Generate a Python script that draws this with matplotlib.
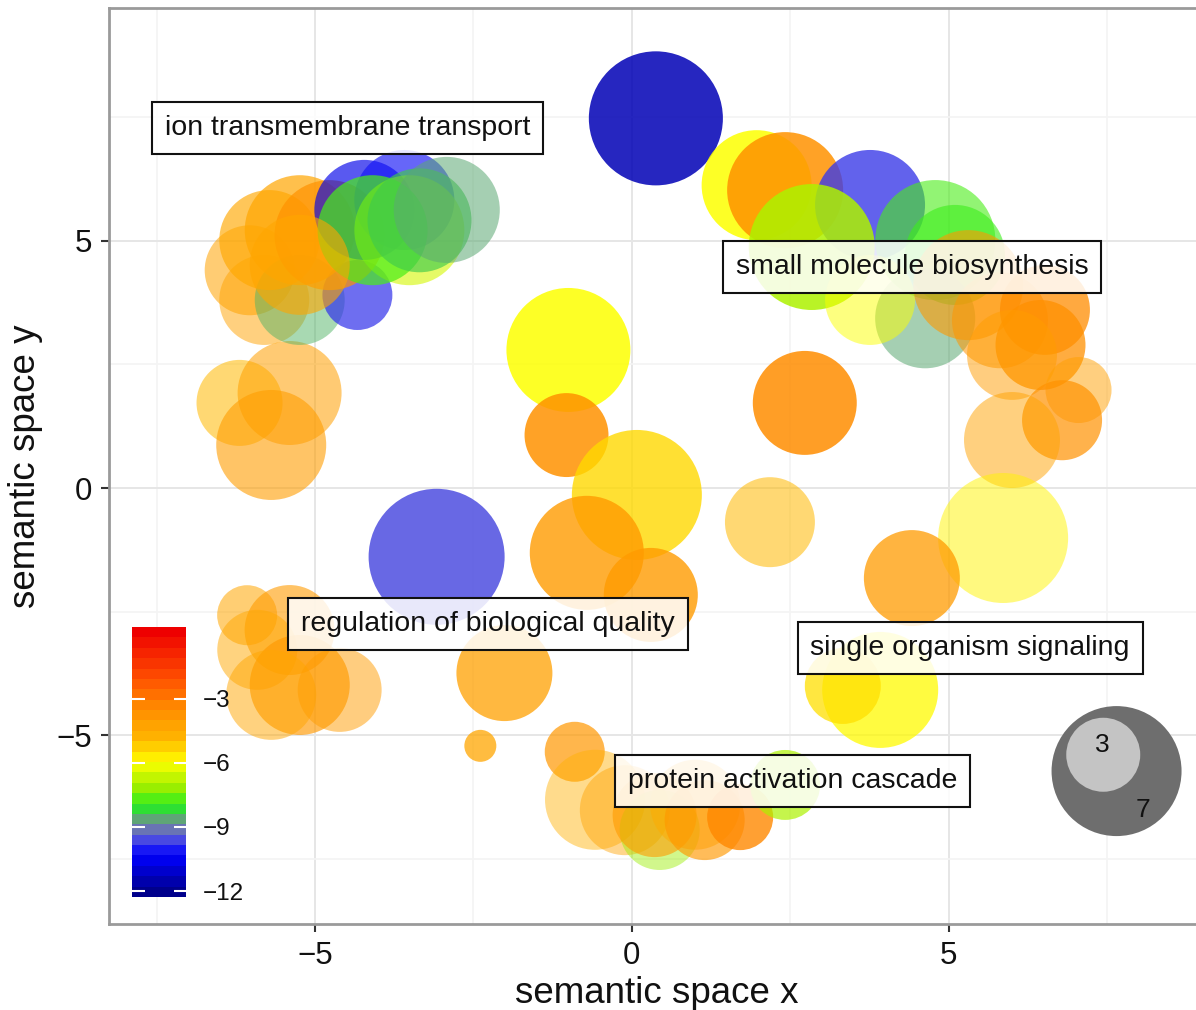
import numpy as np
import matplotlib
matplotlib.use("Agg")
import matplotlib.pyplot as plt
import matplotlib as mpl
from matplotlib.colors import LinearSegmentedColormap, Normalize

plt.rcParams['font.family'] = ['Liberation Sans', 'DejaVu Sans']

# ---------------- data ----------------
plot_x = [0.38, 1.97, 2.42, 3.76, 2.84, 4.79, 5.10, 4.63, 3.76, 5.31,
          5.81, 6.52, 6.45, 6.00, 7.05, 6.79, 6.00, 5.86, 4.42, 3.92,
          3.33, 2.73, 2.18, -1.00, -1.03, 0.08, -0.71, 0.30, -3.08, -6.07,
          -5.40, -5.91, -5.24, -5.69, -4.61, -2.01, -2.39, -0.90, -0.58, -0.11,
          0.44, 0.36, 1.00, 1.15, 1.71, 2.42, -6.19, -5.40, -5.69, -6.03,
          -5.80, -5.24, -4.33, -5.72, -5.24, -4.77, -4.22, -3.59, -3.51, -4.09,
          -3.35, -2.92, -5.24]
plot_y = [7.47, 6.12, 6.02, 5.72, 4.87, 5.01, 4.71, 3.43, 3.80, 4.10,
          3.39, 3.60, 2.89, 2.69, 1.98, 1.37, 0.97, -1.01, -1.82, -4.08,
          -4.00, 1.72, -0.69, 2.79, 1.07, -0.14, -1.31, -2.16, -1.39, -2.57,
          -2.87, -3.27, -3.98, -4.18, -4.08, -3.74, -5.21, -5.33, -6.30, -6.51,
          -6.91, -6.61, -6.40, -6.71, -6.65, -6.00, 1.72, 1.92, 0.87, 4.40,
          3.80, 3.80, 3.90, 5.01, 5.21, 5.11, 5.62, 5.82, 5.21, 5.21,
          5.41, 5.62, 4.51]
plot_size = [7.29, 5.57, 6.00, 5.57, 6.71, 6.29, 4.86, 4.86, 4.14, 5.57,
             4.57, 4.14, 4.14, 4.14, 2.43, 3.43, 4.57, 7.00, 4.57, 6.00,
             3.14, 5.14, 4.14, 6.57, 3.71, 7.00, 5.86, 4.43, 7.43, 2.00,
             4.14, 3.43, 4.86, 4.14, 3.71, 4.57, 0.00, 2.00, 4.86, 4.14,
             3.43, 3.71, 4.14, 3.43, 2.43, 2.71, 3.86, 5.14, 5.57, 4.14,
             4.14, 4.14, 2.71, 4.86, 5.57, 5.57, 4.86, 4.86, 5.57, 5.57,
             5.14, 5.29, 4.86]
log10_p_value = [-11.6, -6.0, -3.6, -9.9, -7.0, -7.8, -7.9, -8.7, -6.0, -3.8,
                 -3.7, -3.4, -3.5, -4.0, -4.1, -3.6, -4.2, -5.8, -3.9, -5.9,
                 -5.5, -3.4, -4.9, -6.0, -3.6, -5.4, -3.9, -3.9, -9.7, -4.3,
                 -3.9, -4.4, -3.8, -4.3, -4.0, -4.1, -4.3, -3.8, -4.7, -4.2,
                 -7.2, -3.9, -4.5, -3.8, -3.3, -7.0, -4.9, -4.1, -4.0, -4.2,
                 -4.2, -8.6, -10.0, -4.4, -4.3, -3.6, -10.8, -10.3, -6.5, -7.8,
                 -8.4, -8.7, -4.3]
uniqueness = [0.85, 0.85, 0.85, 0.80, 0.85, 0.60, 0.60, 0.55, 0.50, 0.60,
              0.55, 0.75, 0.75, 0.50, 0.50, 0.70, 0.50, 0.50, 0.75, 0.75,
              0.75, 0.85, 0.55, 0.85, 0.85, 0.80, 0.80, 0.80, 0.85, 0.55,
              0.60, 0.50, 0.65, 0.50, 0.50, 0.75, 0.75, 0.70, 0.45, 0.45,
              0.45, 0.60, 0.50, 0.65, 0.80, 0.70, 0.55, 0.55, 0.60, 0.55,
              0.50, 0.50, 0.70, 0.65, 0.70, 0.70, 0.65, 0.65, 0.60, 0.70,
              0.65, 0.55, 0.60]

label_text = ["ion transmembrane transport", "small molecule biosynthesis",
              "regulation of biological quality", "single organism signaling",
              "protein activation cascade"]
label_x = [-4.49, 4.42, -2.27, 5.34, 2.54]
label_y = [7.27, 4.46, -2.75, -3.23, -5.92]

legend_size = [7, 3]
legend_x = [7.65, 7.44]
legend_y = [-5.72, -5.39]
legend_text_x = [8.06, 7.43]
legend_text_y = [-6.50, -5.19]

cbar_ticks = [-3, -6, -9, -12]

# ---------------- style ----------------
FIG_W, FIG_H, DPI = 11.96, 10.10, 100


def size_to_s(sz):
    r_px = 16 + 7 * np.asarray(sz, dtype=float)
    r_pt = r_px * 72.0 / DPI
    return (2 * r_pt) ** 2


cmap = LinearSegmentedColormap.from_list(
    "revigo",
    [(0.000, "#00008B"), (0.140, "#0000FF"), (0.210, "#5555DD"),
     (0.260, "#778899"), (0.330, "#22EE22"), (0.400, "#99EE00"),
     (0.500, "#FFFF00"), (0.590, "#FFB400"), (0.710, "#FF8A00"),
     (0.820, "#FF5000"), (1.000, "#EE0000")])
norm = Normalize(vmin=-12.28, vmax=0.35)

fig = plt.figure(figsize=(FIG_W, FIG_H), dpi=DPI)
ax = fig.add_axes([109 / 1196, 1 - 924 / 1010, 1095 / 1196, 916 / 1010])

rgba = cmap(norm(np.array(log10_p_value)))
rgba[:, 3] = np.array(uniqueness)
ax.scatter(plot_x, plot_y, s=size_to_s(plot_size), c=rgba, edgecolors='none', zorder=3)

# size legend
ax.scatter(legend_x, legend_y, s=size_to_s(legend_size), c=['#6E6E6E', '#C4C4C4'],
           edgecolors='none', zorder=4)
for tx, ty, sz in zip(legend_text_x, legend_text_y, legend_size):
    ax.text(tx, ty, str(sz), ha='center', va='center', fontsize=19, color='#111111', zorder=5)

# labels
for t, lx, ly in zip(label_text, label_x, label_y):
    ax.text(lx, ly, t, ha='center', va='center', fontsize=20.5, color='#111111', zorder=6,
            bbox=dict(boxstyle='square,pad=0.45', fc=(1, 1, 1, 0.85), ec='#111111', lw=1.5))

ax.set_xlim(-8.25, 9.03)
ax.set_ylim(-8.81, 9.70)
ax.set_xticks([-5, 0, 5])
ax.set_yticks([-5, 0, 5])
ax.set_xticks([-7.5, -2.5, 2.5, 7.5], minor=True)
ax.set_yticks([-7.5, -2.5, 2.5, 7.5], minor=True)
ax.grid(which='major', color='#E6E6E6', lw=1.4, zorder=0)
ax.grid(which='minor', color='#F4F4F4', lw=1.2, zorder=0)
ax.set_axisbelow(True)
ax.tick_params(which='minor', length=0)
ax.tick_params(which='major', length=6, width=1.5, color='#333333', labelsize=22.5,
               labelcolor='#111111', pad=6)
for sp in ax.spines.values():
    sp.set_color('#9A9A9A')
    sp.set_linewidth(2)
ax.set_xlabel('semantic space x', fontsize=26.5, color='#111111', labelpad=4)
ax.set_ylabel('semantic space y', fontsize=26.5, color='#111111', labelpad=10)

# colorbar
cax = fig.add_axes([132 / 1196, 1 - 897 / 1010, 54 / 1196, 270 / 1010])
sm = mpl.cm.ScalarMappable(norm=norm, cmap=cmap.resampled(26))
cb = fig.colorbar(sm, cax=cax, ticks=cbar_ticks)
cb.outline.set_visible(False)
cax.tick_params(direction='in', length=9, width=1.5, color='white', left=True, right=True,
                labelsize=17.5, labelcolor='#111111', pad=12)

fig.savefig('out.png', dpi=DPI)
